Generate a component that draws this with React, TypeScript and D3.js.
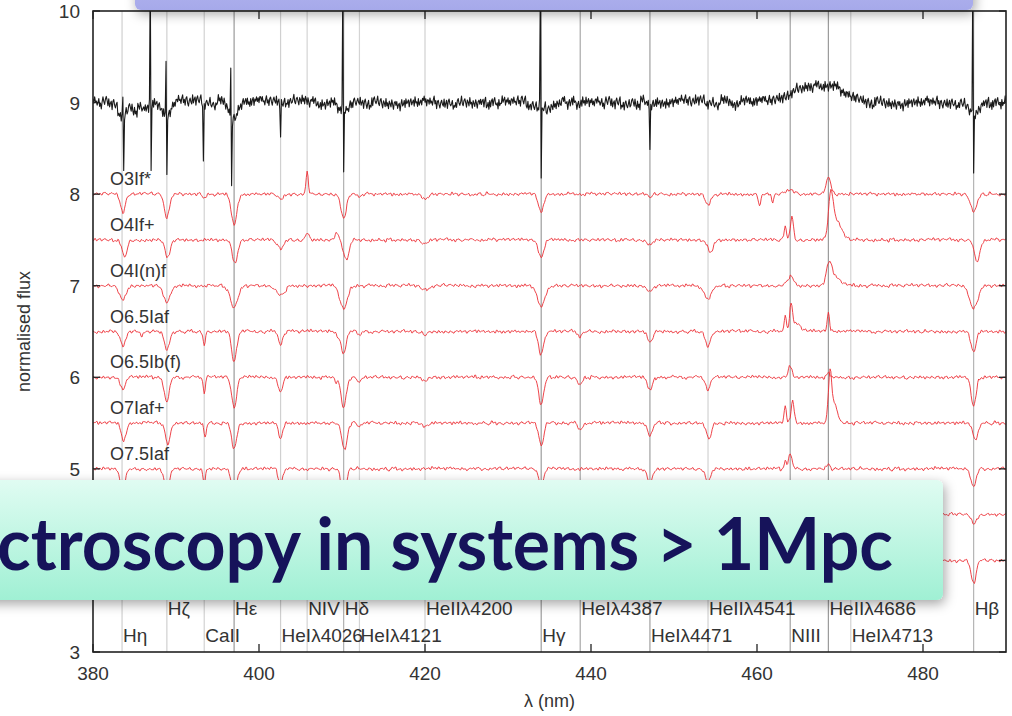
import React from "react";
import * as d3 from "d3";

// wavelength range (nm) and flux range
const WAVE_DOMAIN = [380, 490];
const FLUX_DOMAIN = [3, 10];
const X_TICKS = [380, 400, 420, 440, 460, 480];
const Y_TICKS = [3, 4, 5, 6, 7, 8, 9, 10];

// identified lines: name, wavelength (nm), label row (0 = upper, 1 = lower), grid shade
const LINE_NAMES = ["Hη", "Hζ", "CaII", "Hε", "HeIλ4026", "NIV", "Hδ", "HeIλ4121", "HeIIλ4200",
  "Hγ", "HeIλ4387", "HeIλ4471", "HeIIλ4541", "NIII", "HeIIλ4686", "HeIλ4713", "Hβ"];
const LINE_WAVES = [383.5, 388.9, 393.4, 397.0, 402.6, 405.8, 410.2, 412.1, 420.0,
  434.0, 438.7, 447.1, 454.1, 464.0, 468.6, 471.3, 486.1];
const LINE_ROWS = [1, 0, 1, 0, 1, 0, 0, 1, 0, 1, 0, 1, 0, 1, 0, 1, 0];
const LINE_SHADES = ["#cfcfcf", "#d0d0d0", "#d2d2d2", "#9a9a9a", "#d0d0d0", "#d4d4d4", "#b0b0b0", "#d4d4d4", "#d0d0d0",
  "#9c9c9c", "#a8a8a8", "#a0a0a0", "#d2d2d2", "#a0a0a0", "#9a9a9a", "#d2d2d2", "#b4b4b4"];

// spectra: offset baseline, label, features [centre nm, amplitude, width nm]
const TYPE_LABELS = ["O3If*", "O4If+", "O4I(n)f", "O6.5Iaf", "O6.5Ib(f)", "O7Iaf+", "O7.5Iaf", "", ""];
const TYPE_BASES = [8.0, 7.5, 7.0, 6.5, 6.0, 5.5, 5.0, 4.5, 4.0];

const O3If = [[383.6, -0.2, 0.3], [388.9, -0.25, 0.3], [393.4, -0.05, 0.2], [397.0, -0.33, 0.33], [402.6, -0.06, 0.3],
  [405.8, 0.24, 0.14], [410.2, -0.26, 0.33], [412.1, -0.03, 0.3], [420.0, -0.05, 0.4], [434.0, -0.2, 0.33],
  [447.1, -0.04, 0.3], [454.1, -0.12, 0.33], [460.3, -0.14, 0.14], [461.9, -0.09, 0.14], [464.0, 0.05, 0.5],
  [468.6, 0.18, 0.3], [486.1, -0.18, 0.38]];
const O4If = [[383.8, -0.19, 0.3], [389.0, -0.2, 0.3], [397.1, -0.25, 0.33], [402.6, -0.1, 0.35], [405.8, 0.08, 0.2],
  [409.4, 0.08, 0.2], [410.5, -0.22, 0.33], [420.0, -0.05, 0.4], [434.0, -0.2, 0.33], [447.1, -0.05, 0.3],
  [454.4, -0.14, 0.33], [463.4, 0.15, 0.14], [464.2, 0.25, 0.18], [468.9, 0.45, 0.28], [469.6, 0.2, 0.6],
  [486.5, -0.24, 0.33]];
const O4In = [[383.6, -0.15, 0.4], [388.9, -0.19, 0.4], [397.0, -0.24, 0.45], [402.6, -0.1, 0.5], [410.2, -0.26, 0.45],
  [420.0, -0.05, 0.5], [434.0, -0.22, 0.45], [447.1, -0.06, 0.4], [454.1, -0.14, 0.45], [464.0, 0.1, 0.4],
  [468.7, 0.23, 0.33], [469.5, 0.08, 0.6], [486.1, -0.24, 0.5]];
const O65Iaf = [[383.6, -0.16, 0.3], [385.9, -0.05, 0.2], [388.9, -0.2, 0.3], [393.4, -0.14, 0.14], [397.0, -0.34, 0.3],
  [402.6, -0.14, 0.25], [409.5, -0.05, 0.2], [410.2, -0.25, 0.3], [412.1, -0.05, 0.2], [420.0, -0.04, 0.3],
  [434.0, -0.25, 0.3], [438.7, -0.05, 0.3], [447.1, -0.12, 0.3], [454.1, -0.16, 0.3], [463.4, 0.17, 0.14],
  [464.1, 0.27, 0.18], [464.8, 0.08, 0.5], [468.6, 0.2, 0.14], [486.1, -0.23, 0.3]];
const O65Ib = [[383.6, -0.14, 0.3], [388.9, -0.27, 0.3], [393.4, -0.17, 0.14], [397.0, -0.33, 0.3], [402.6, -0.17, 0.25],
  [409.3, -0.06, 0.14], [410.2, -0.33, 0.3], [412.1, -0.06, 0.2], [420.0, -0.04, 0.3], [434.0, -0.3, 0.3],
  [438.7, -0.08, 0.25], [447.1, -0.15, 0.3], [454.1, -0.14, 0.3], [464.0, 0.13, 0.2], [468.6, 0.04, 0.2],
  [486.1, -0.32, 0.3]];
const O7Iaf = [[383.7, -0.2, 0.3], [389.0, -0.22, 0.3], [393.5, -0.17, 0.14], [397.0, -0.28, 0.3], [402.6, -0.17, 0.25],
  [410.3, -0.3, 0.3], [412.1, -0.05, 0.2], [420.0, -0.04, 0.3], [434.0, -0.25, 0.3], [438.7, -0.08, 0.25],
  [447.1, -0.15, 0.3], [454.2, -0.18, 0.3], [463.4, 0.18, 0.14], [464.3, 0.25, 0.18], [468.8, 0.5, 0.2],
  [469.3, 0.2, 0.4], [486.3, -0.18, 0.3]];
const O75Iaf = [[383.6, -0.22, 0.3], [388.9, -0.25, 0.3], [393.4, -0.15, 0.14], [397.0, -0.3, 0.3], [402.6, -0.17, 0.25],
  [410.2, -0.3, 0.3], [434.0, -0.17, 0.3], [447.1, -0.15, 0.3], [454.1, -0.14, 0.3], [463.4, 0.08, 0.14],
  [464.0, 0.17, 0.2], [468.6, 0.05, 0.2], [486.1, -0.2, 0.3]];
const HIDDEN_A = [[383.6, -0.2, 0.3], [388.9, -0.22, 0.3], [397.0, -0.28, 0.3], [410.2, -0.28, 0.3], [434.0, -0.2, 0.3],
  [447.1, -0.12, 0.3], [464.0, 0.1, 0.2], [480.6, -0.04, 0.2], [486.1, -0.1, 0.3]];
const HIDDEN_B = [[383.6, -0.22, 0.3], [388.9, -0.25, 0.3], [397.0, -0.3, 0.3], [410.2, -0.3, 0.3], [434.0, -0.25, 0.3],
  [447.1, -0.14, 0.3], [464.0, 0.08, 0.2], [486.1, -0.25, 0.3]];
const TYPE_FEATURES = [O3If, O4If, O4In, O65Iaf, O65Ib, O7Iaf, O75Iaf, HIDDEN_A, HIDDEN_B];

// observed (black) spectrum at 9: broad features + sharp residual spikes
const OBS_BASE = 9.0;
const OBS_FEATURES = [[383.5, -0.12, 0.5], [385.5, -0.08, 0.8], [388.9, -0.15, 0.5], [397.0, -0.15, 0.6],
  [410.2, -0.1, 0.6], [434.0, -0.08, 0.8], [464.5, 0.08, 1.2], [468.3, 0.2, 2.0], [486.1, -0.12, 0.6],
  [383.6, 0.19, 0.04], [383.7, -0.6, 0.04], [386.9, 1.5, 0.04], [387.0, -0.75, 0.04], [388.8, 0.68, 0.04],
  [388.9, -0.7, 0.04], [393.3, -0.6, 0.04], [396.6, 0.55, 0.04], [396.7, -0.8, 0.04], [402.6, -0.4, 0.04],
  [410.1, 1.5, 0.04], [410.2, -0.75, 0.04], [433.9, 1.5, 0.04], [434.0, -0.85, 0.04], [447.1, -0.5, 0.04],
  [486.0, 1.5, 0.04], [486.1, -0.7, 0.04]];

// jitter texture for the photon noise
const NOISE = [0.42, -0.31, 0.77, -0.12, 0.05, -0.66, 0.28, 0.91, -0.44, 0.13, -0.87, 0.36, 0.58, -0.21, -0.73, 0.19,
  0.64, -0.05, -0.38, 0.82, -0.57, 0.11, 0.47, -0.93, 0.25, 0.69, -0.16, -0.49, 0.33, 0.88, -0.62, 0.02, -0.28, 0.54,
  -0.81, 0.39, 0.71, -0.09, -0.45, 0.16, 0.95, -0.34, -0.68, 0.22, 0.51, -0.14, -0.79, 0.44, 0.07, -0.58, 0.83, -0.25,
  0.31, -0.71, 0.6, 0.14, -0.41, 0.76, -0.03, -0.86, 0.27, 0.49, -0.19, 0.66, -0.52, 0.09, 0.38, -0.95, 0.2, 0.73,
  -0.36, -0.11, 0.57, -0.64, 0.85, -0.23, 0.04, 0.41, -0.77, 0.18, 0.62, -0.47, -0.02, 0.35, -0.69, 0.92, -0.15, 0.26,
  -0.54, 0.8, -0.33, 0.12, 0.55, -0.83, 0.3, -0.07, 0.67, -0.39, 0.23, -0.6, 0.45];

const W = 1012, H = 716;
const PL = 93, PR = 1006, PT = 11, PB = 652;
const FONT = "'Liberation Sans', Arial, Helvetica, sans-serif";

function spectrum(base, features, amp, offset, grain) {
  const pts = [];
  const N = NOISE.length;
  const n = Math.round((WAVE_DOMAIN[1] - WAVE_DOMAIN[0]) / 0.1);
  for (let i = 0; i <= n; i++) {
    const w = WAVE_DOMAIN[0] + i * 0.1;
    let f = base;
    for (const [c, a, s] of features) {
      const d = (w - c) / s;
      if (Math.abs(d) < 6) f += a * Math.exp(-0.5 * d * d);
    }
    const fine = NOISE[(Math.floor(i / grain) + offset) % N];
    const coarse = NOISE[(Math.floor(i / 6) * 7 + offset * 3 + 11) % N];
    f += (fine * 0.75 + coarse * 0.45) * amp;
    pts.push([w, f]);
  }
  return pts;
}

export default function App() {
  const x = d3.scaleLinear().domain(WAVE_DOMAIN).range([PL, PR]);
  const y = d3.scaleLinear().domain(FLUX_DOMAIN).range([PB, PT]);
  const line = d3.line().x(d => x(d[0])).y(d => y(d[1]));

  const obs = spectrum(OBS_BASE, OBS_FEATURES, 0.085, 0, 1);
  const types = TYPE_BASES.map((b, k) => spectrum(b, TYPE_FEATURES[k], 0.022, k * 13 + 5, 2));

  return (
    <svg width={W} height={H} style={{ position: "absolute", left: 0, top: 0, background: "#fff" }}>
      <defs>
        <clipPath id="plot"><rect x={PL} y={PT} width={PR - PL} height={PB - PT} /></clipPath>
        <linearGradient id="mint" x1="0" y1="0" x2="0" y2="1">
          <stop offset="0" stopColor="#e0fcf2" />
          <stop offset="1" stopColor="#a0f0d4" />
        </linearGradient>
        <linearGradient id="lav" x1="0" y1="0" x2="0" y2="1">
          <stop offset="0" stopColor="#b6b8f0" />
          <stop offset="1" stopColor="#a6a9ea" />
        </linearGradient>
        <filter id="shadow" x="-10%" y="-30%" width="120%" height="170%">
          <feDropShadow dx="2" dy="4" stdDeviation="6" floodColor="#000" floodOpacity="0.35" />
        </filter>
      </defs>

      {/* identification lines */}
      {LINE_WAVES.map((w, i) => (
        <line key={"g" + i} x1={x(w)} x2={x(w)} y1={PT} y2={PB} stroke={LINE_SHADES[i]} strokeWidth={1.2} />
      ))}

      <g clipPath="url(#plot)">
        {types.map((pts, k) => (
          <path key={"t" + k} d={line(pts)} fill="none" stroke="#ec2f35" strokeWidth={0.9} strokeLinejoin="round" />
        ))}
        <path d={line(obs)} fill="none" stroke="#1a1a1a" strokeWidth={1.1} strokeLinejoin="round" />
      </g>

      {TYPE_LABELS.map((t, k) => t && (
        <text key={"l" + k} x={110} y={y(TYPE_BASES[k]) - 9} fontFamily={FONT} fontSize={18} fill="#333">{t}</text>
      ))}

      {LINE_NAMES.map((nm, i) => (
        <text key={"n" + i} x={x(LINE_WAVES[i]) + 1} y={LINE_ROWS[i] ? 642 : 615} fontFamily={FONT} fontSize={19} fill="#333">{nm}</text>
      ))}

      {/* frame and ticks */}
      <rect x={PL} y={PT} width={PR - PL} height={PB - PT} fill="none" stroke="#222" strokeWidth={1.6} />
      {X_TICKS.map(t => (
        <g key={"x" + t}>
          <line x1={x(t)} x2={x(t)} y1={PB} y2={PB - 8} stroke="#222" strokeWidth={1.3} />
          <line x1={x(t)} x2={x(t)} y1={PT} y2={PT + 8} stroke="#222" strokeWidth={1.3} />
          <text x={x(t)} y={680} textAnchor="middle" fontFamily={FONT} fontSize={19} fill="#333">{t}</text>
        </g>
      ))}
      {Y_TICKS.map(t => (
        <g key={"y" + t}>
          <line x1={PL} x2={PL + 7} y1={y(t)} y2={y(t)} stroke="#222" strokeWidth={1.3} />
          <line x1={PR} x2={PR - 7} y1={y(t)} y2={y(t)} stroke="#222" strokeWidth={1.3} />
          <text x={80} y={y(t) + 7} textAnchor="end" fontFamily={FONT} fontSize={19} fill="#333">{t}</text>
        </g>
      ))}
      <text x={(PL + PR) / 2} y={707} textAnchor="middle" fontFamily={FONT} fontSize={18} fill="#333">λ (nm)</text>
      <text transform={`translate(30,${(PT + PB) / 2}) rotate(-90)`} textAnchor="middle" fontFamily={FONT} fontSize={18} fill="#333">normalised flux</text>

      {/* slide overlays */}
      <rect x={135} y={-30} width={838} height={40} rx={6} fill="url(#lav)" filter="url(#shadow)" />
      <rect x={-20} y={480} width={963} height={120} rx={6} fill="url(#mint)" filter="url(#shadow)" />
      <text x={-3} y={570} fontFamily="Lato, 'Open Sans', sans-serif" fontWeight={700} fontSize={72} fill="#16135a"
        textLength={896} lengthAdjust="spacingAndGlyphs">ctroscopy in systems &gt; 1Mpc</text>
    </svg>
  );
}
